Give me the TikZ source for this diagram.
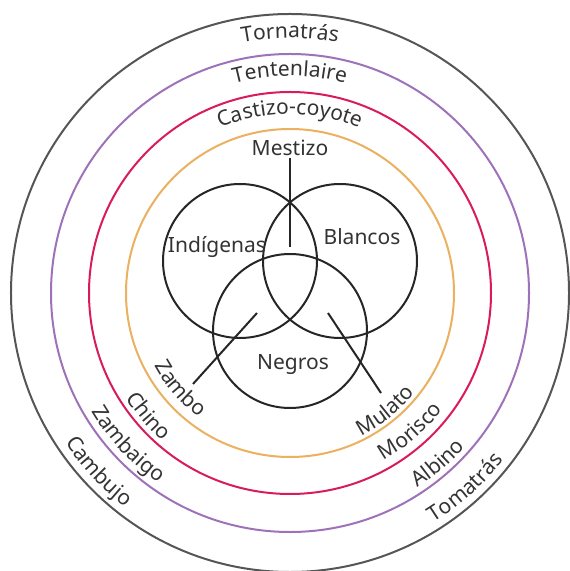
\documentclass[tikz,border=0pt]{standalone}
\usepackage{fontspec}
\setmainfont{Noto Sans}
\usetikzlibrary{decorations.text}
\definecolor{ringgray}{HTML}{555555}
\definecolor{ringpurple}{HTML}{9E72B8}
\definecolor{ringred}{HTML}{D91B5C}
\definecolor{ringorange}{HTML}{EBB060}
\definecolor{lblgray}{HTML}{333333}
\newcommand{\lbl}{\fontsize{10.5}{12}\selectfont\color{lblgray}}

\begin{document}
\begin{tikzpicture}[x=0.5pt,y=0.5pt,
  font=\fontsize{10.5}{12}\selectfont,
  ring/.style={line width=1pt},
  venn/.style={draw=black!85,line width=1pt},
  lab/.style={text=lblgray,inner sep=1pt},
  tick/.style={draw=black!85,line width=1pt},
  arctext/.style={decorate,decoration={text along path,text align=center}}]
\useasboundingbox (-290,-278) rectangle (279,293);
% rings
\draw[ring,ringgray] (0,0) circle[radius=279];
\draw[ring,ringpurple] (0,0) circle[radius=239];
\draw[ring,ringred] (0,0) circle[radius=201];
\draw[ring,ringorange] (0,0) circle[radius=164];
% venn
\draw[venn] (-50,32) circle[radius=77];
\draw[venn] (50,32) circle[radius=77];
\draw[venn] (0,-38) circle[radius=77];
\node[lab] (ind) at (-73,46) {Indígenas};
\node[lab] (bla) at (72,56) {Blancos};
\node[lab] (neg) at (3,-72) {Negros};
\node[lab] (mes) at (0,145) {Mestizo};
\coordinate (mesend) at (0,46);
\coordinate (zamin) at (-33,-20);
\coordinate (zamout) at (-97,-91);
\coordinate (mulin) at (38,-20);
\coordinate (mulout) at (91,-100);
\draw[tick] (mes.south) -- (mesend);
\draw[tick] (zamin) -- (zamout);
\draw[tick] (mulin) -- (mulout);
% top labels
\path[arctext,decoration={text={|\lbl|Tornatrás}}] (140:255) arc[start angle=140,end angle=40,radius=255];
\path[arctext,decoration={text={|\lbl|Tentenlaire}}] (140:217) arc[start angle=140,end angle=40,radius=217];
\path[arctext,decoration={text={|\lbl|Castizo-coyote}}] (140:179) arc[start angle=140,end angle=40,radius=179];
% lower left labels
\path[arctext,decoration={text={|\lbl|Zambo}}] (176:154) arc[start angle=176,end angle=266,radius=154];
\path[arctext,decoration={text={|\lbl|Chino}}] (176:195) arc[start angle=176,end angle=266,radius=195];
\path[arctext,decoration={text={|\lbl|Zambaigo}}] (178:231) arc[start angle=178,end angle=268,radius=231];
\path[arctext,decoration={text={|\lbl|Cambujo}}] (178:270) arc[start angle=178,end angle=268,radius=270];
% lower right labels
\path[arctext,decoration={text={|\lbl|Mulato}}] (264:160) arc[start angle=264,end angle=354,radius=160];
\path[arctext,decoration={text={|\lbl|Morisco}}] (266:192) arc[start angle=266,end angle=356,radius=192];
\path[arctext,decoration={text={|\lbl|Albino}}] (266:233) arc[start angle=266,end angle=356,radius=233];
\path[arctext,decoration={text={|\lbl|Tomatrás}}] (267:271) arc[start angle=267,end angle=357,radius=271];
\end{tikzpicture}
\end{document}
